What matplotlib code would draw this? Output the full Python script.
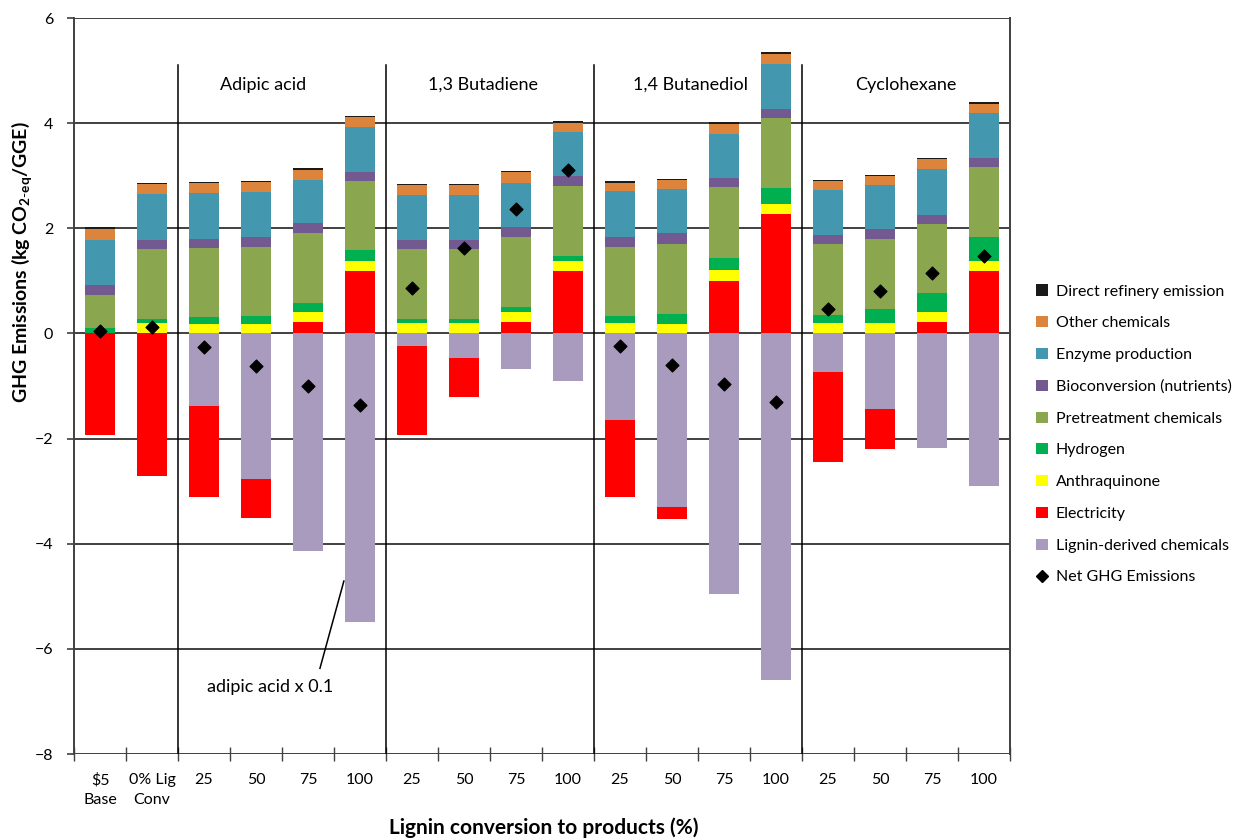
import matplotlib
matplotlib.use("Agg")
import matplotlib.pyplot as plt
from matplotlib.patches import Patch
from matplotlib.lines import Line2D
import numpy as np

plt.rcParams['font.family'] = ['Lato', 'DejaVu Sans']
plt.rcParams['mathtext.fontset'] = 'custom'
plt.rcParams['mathtext.rm'] = 'Lato'
plt.rcParams['mathtext.bf'] = 'Lato:bold'

categories = ["\\$5\nBase", "0% Lig\nConv", "25", "50", "75", "100",
              "25", "50", "75", "100", "25", "50", "75", "100",
              "25", "50", "75", "100"]
groups = ["Adipic acid", "1,3 Butadiene", "1,4 Butanediol", "Cyclohexane"]

direct = [0.025, 0.025, 0.025, 0.025, 0.025, 0.025, 0.025, 0.025, 0.025,
          0.025, 0.025, 0.025, 0.025, 0.025, 0.025, 0.025, 0.025, 0.025]
other = [0.22, 0.20, 0.20, 0.18, 0.19, 0.18, 0.18, 0.18, 0.20, 0.17,
         0.17, 0.17, 0.19, 0.19, 0.18, 0.17, 0.18, 0.18]
enzyme = [0.84, 0.87, 0.86, 0.87, 0.83, 0.86, 0.87, 0.87, 0.85, 0.85,
          0.86, 0.84, 0.835, 0.87, 0.85, 0.835, 0.87, 0.85]
bio = [0.20, 0.165, 0.17, 0.18, 0.19, 0.18, 0.17, 0.17, 0.18, 0.19,
       0.19, 0.21, 0.175, 0.17, 0.17, 0.20, 0.17, 0.17]
pretreat = [0.63, 1.33, 1.32, 1.31, 1.32, 1.31, 1.32, 1.32, 1.33, 1.32,
            1.31, 1.32, 1.35, 1.32, 1.34, 1.33, 1.33, 1.345]
hydrogen = [0.10, 0.09, 0.127, 0.15, 0.177, 0.20, 0.09, 0.09, 0.095, 0.10,
            0.15, 0.19, 0.24, 0.30, 0.17, 0.27, 0.35, 0.445]
anthraquinone = [0.0, 0.19, 0.187, 0.187, 0.20, 0.20, 0.19, 0.19, 0.20, 0.20,
                 0.19, 0.187, 0.20, 0.19, 0.19, 0.19, 0.20, 0.20]
electricity = [-1.94, -2.71, -1.73, -0.74, 0.21, 1.18, -1.70, -0.74, 0.21, 1.18,
               -1.46, -0.22, 1.0, 2.28, -1.71, -0.75, 0.21, 1.18]
lignin = [0.0, 0.0, -1.38, -2.77, -4.13, -5.49, -0.24, -0.46, -0.68, -0.90,
          -1.65, -3.31, -4.95, -6.60, -0.73, -1.44, -2.17, -2.90]
net = [0.05, 0.12, -0.25, -0.62, -1.00, -1.37, 0.87, 1.62, 2.37, 3.11,
       -0.24, -0.60, -0.96, -1.30, 0.47, 0.80, 1.14, 1.47]

colors = {
    "Direct refinery emission": "#1a1a1a",
    "Other chemicals": "#DD843C",
    "Enzyme production": "#4398B0",
    "Bioconversion (nutrients)": "#725990",
    "Pretreatment chemicals": "#8AA64E",
    "Hydrogen": "#00B050",
    "Anthraquinone": "#FFFF00",
    "Electricity": "#FF0000",
    "Lignin-derived chemicals": "#A99BBD",
}

W, H = 1248, 838
fig = plt.figure(figsize=(W / 100, H / 100), dpi=100)
ax = fig.add_axes([74 / W, 1 - 754 / H, (1010 - 74) / W, (754 - 18) / H])

x = np.arange(len(categories))
bw = 0.58
elec = np.array(electricity)
elec_pos = np.where(elec > 0, elec, 0)
elec_neg = np.where(elec < 0, elec, 0)

# positive stack
bottom = np.zeros(len(x))
for name, vals in [("Electricity", elec_pos), ("Anthraquinone", anthraquinone),
                   ("Hydrogen", hydrogen), ("Pretreatment chemicals", pretreat),
                   ("Bioconversion (nutrients)", bio), ("Enzyme production", enzyme),
                   ("Other chemicals", other), ("Direct refinery emission", direct)]:
    v = np.array(vals)
    ax.bar(x, v, bw, bottom=bottom, color=colors[name], zorder=3, linewidth=0)
    bottom += v

# negative stack
nb = np.zeros(len(x))
for name, vals in [("Lignin-derived chemicals", lignin), ("Electricity", elec_neg)]:
    v = np.array(vals)
    ax.bar(x, v, bw, bottom=nb, color=colors[name], zorder=3, linewidth=0)
    nb += v

ax.scatter(x, net, marker='D', s=42, color='black', zorder=5)

ax.set_xlim(-0.5, len(x) - 0.5)
ax.set_ylim(-8, 6)
ax.set_yticks(np.arange(-8, 7, 2))
ax.tick_params(axis='y', labelsize=11.5, length=5, width=1.2, color='#404040', pad=10)
for yv in np.arange(-8, 7, 2):
    ax.axhline(yv, color='#404040', lw=1.4, zorder=2)

# x ticks at boundaries
ax.set_xticks(np.arange(-0.5, len(x) + 0.5, 1))
ax.set_xticklabels([])
ax.tick_params(axis='x', direction='inout', length=10, width=1.0, color='#404040')
ax.set_xticks(x, minor=True)
ax.set_xticklabels(categories, minor=True, fontsize=11.5, linespacing=1.5)
ax.tick_params(axis='x', which='minor', length=0, pad=14)
for lab in ax.get_xticklabels(minor=True):
    lab.set_verticalalignment('top')

ax.spines['top'].set_visible(False)
ax.spines['left'].set_color('#404040')
ax.spines['left'].set_linewidth(1.4)
ax.spines['right'].set_color('#404040')
ax.spines['right'].set_linewidth(1.4)
ax.spines['bottom'].set_visible(False)

# group separators
for sx in [1.5, 5.5, 9.5, 13.5]:
    ax.plot([sx, sx], [-8, 5.1], color='black', lw=1.1, zorder=4)

for gx, g in zip([3.13, 7.37, 11.35, 15.5], groups):
    ax.text(gx, 4.73, g, ha='center', va='center', fontsize=13)

# annotation
ax.plot([4.69, 4.23], [-4.71, -6.37], color='black', lw=1.1, zorder=6)
ax.text(3.27, -6.73, "adipic acid x 0.1", ha='center', va='center', fontsize=13)

fig.text(22 / W, 1 - 262 / H, r"GHG Emissions (kg CO$_{\mathbf{2\text{-}eq}}$/GGE)",
         rotation=90, ha='center', va='center', fontsize=14, fontweight='bold')
fig.text(544 / W, 1 - 828 / H, "Lignin conversion to products (%)",
         ha='center', va='center', fontsize=15, fontweight='bold')

legend_order = ["Direct refinery emission", "Other chemicals", "Enzyme production",
                "Bioconversion (nutrients)", "Pretreatment chemicals", "Hydrogen",
                "Anthraquinone", "Electricity", "Lignin-derived chemicals"]
handles = [Patch(facecolor=colors[n], edgecolor='none', label=n) for n in legend_order]
handles.append(Line2D([], [], marker='D', color='black', linestyle='none',
                      markersize=6, label="Net GHG Emissions"))
fig.legend(handles=handles, loc='upper left', bbox_to_anchor=(1030 / W, 1 - 278 / H),
           frameon=False, fontsize=11.5, labelspacing=1.1, handlelength=0.7,
           handleheight=0.7, handletextpad=0.5, borderaxespad=0)

fig.savefig("out.png", dpi=100)
